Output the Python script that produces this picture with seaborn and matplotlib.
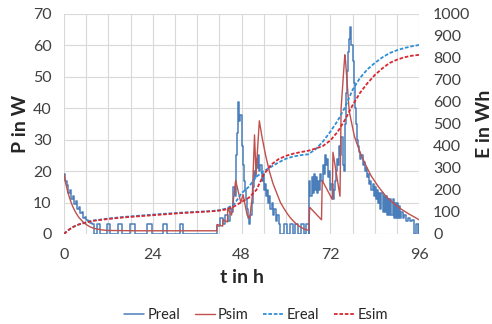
import numpy as np
import pandas as pd
import matplotlib
matplotlib.use("Agg")
import matplotlib.pyplot as plt
import seaborn as sns

# Preal (Messung), stufig, Werte halten bis zum naechsten Zeitpunkt
t_real = [0, 0.4, 0.8, 1.2, 1.6, 2.0, 2.4, 2.8, 3.2, 3.6, 4.0, 4.4, 4.8, 5.2, 5.6, 6.0, 6.5, 7.0, 7.5,
          8.1, 8.9, 9.7, 11.6, 12.4, 14.6, 15.7, 17.8, 19.2, 22.4, 23.8, 26.8, 27.9, 31.4, 32.2,
          41.4, 42.2, 43.0, 43.6, 44.2, 44.8, 45.3, 45.7, 46.1, 46.5, 46.8, 47.1, 47.4, 47.7, 48.0,
          48.3, 48.6, 48.9, 49.2, 49.5, 49.8, 50.1, 50.4, 50.7, 51.0, 51.3, 51.6, 51.9, 52.2, 52.5,
          52.8, 53.1, 53.4, 53.7, 54.0, 54.3, 54.6, 54.9, 55.2, 55.5, 55.8, 56.1, 56.4, 56.8, 57.2,
          57.6, 58.0, 58.5, 59.5, 60.3, 61.0, 61.8, 62.5, 63.3, 64.0, 64.8, 65.5, 66.2,
          66.3, 66.6, 66.9, 67.2, 67.5, 67.8, 68.1, 68.4, 68.7, 69.0, 69.3, 69.6, 69.9, 70.2, 70.5,
          70.8, 71.1, 71.4, 71.7, 72.0, 72.3, 72.6, 72.9, 73.2, 73.5, 73.8, 74.1, 74.4, 74.7, 75.0,
          75.3, 75.6, 75.9, 76.2, 76.5, 76.8, 77.1, 77.4, 77.7, 78.0, 78.3, 78.6, 78.9, 79.2, 79.5,
          79.8, 80.1, 80.4, 80.7, 81.0, 81.3, 81.6, 81.9, 82.2, 82.5, 82.8, 83.1, 83.4, 83.7, 84.0,
          84.3, 84.6, 84.9, 85.2, 85.5, 85.8, 86.1, 86.4, 86.7, 87.0, 87.3, 87.6, 87.9, 88.2, 88.5,
          88.8, 89.1, 89.4, 89.7, 90.0, 90.3, 90.6, 90.9, 91.2, 91.6, 92.0, 92.5, 93.0, 93.5, 94.0,
          94.6, 95.2, 95.8, 96.0]
p_real = [19, 17, 15.5, 13, 14, 11, 12, 9.5, 10.5, 8, 8.5, 6.5, 7, 5, 5.5, 4.5, 4, 3.5, 3.3,
          0, 3.3, 0, 3.3, 0, 3.3, 0, 3.3, 0, 3.3, 0, 3.3, 0, 3.3, 0,
          2.5, 5, 3, 6, 4, 8, 7, 15, 12, 25, 32, 42, 36, 38, 28,
          22, 17, 14, 11, 8, 5, 3, 6, 10, 15, 20, 18, 24, 21, 25,
          20, 22, 17, 19, 14, 16, 12, 14, 10, 12, 8, 10, 6, 8, 4,
          6, 3, 0, 3, 0, 3, 0, 3, 0, 3, 0, 3, 0,
          17, 12, 18, 13, 19, 14, 18, 13, 17, 14, 19, 17, 22, 19, 25,
          22, 24, 18, 20, 14, 16, 11, 14, 17, 20, 24, 22, 28, 25, 31,
          22, 20, 35, 45, 52, 58, 62, 66, 60, 55, 48, 40, 35, 30, 28,
          26, 24, 25, 22, 23, 20, 21, 18, 19, 16, 17, 14, 16, 12, 15,
          11, 14, 10, 13, 8, 13, 7, 12, 7, 12, 6, 11, 6, 11, 6,
          11, 5, 10, 5, 10, 5, 9, 5, 7, 5, 6, 4, 5, 4, 4.5,
          0, 3, 0, 3]

# Psim (Simulation)
t_sim = [0, 0.5, 1, 1.5, 2, 2.5, 3, 3.5, 4, 5, 6, 7, 8, 10, 12, 20, 41.3,
         41.35, 42.9, 42.95, 44.2, 44.25, 45.3, 46.4, 47.8, 48.4, 49.5, 50.2, 50.9, 51.5, 51.9,
         52.8, 53.5, 54.5, 55.5, 56.5, 57.5, 58.5, 59.5, 60.5, 61.5, 62.5, 63.5, 64.5, 65.5, 66.2,
         66.4, 69.6, 69.8, 72.5, 72.7, 74.6, 74.9, 75.9, 76.1, 77.1, 78.5, 80, 81.5, 83, 85, 87,
         89, 91, 93, 96]
p_sim = [19, 16, 13.5, 11.5, 9.8, 8.4, 7.2, 6.2, 5.3, 4, 3, 2.3, 1.8, 1.3, 1.1, 1, 1,
         3, 2.5, 4.5, 3.8, 8, 6, 17, 10, 12.5, 6, 5, 12, 31.5, 19,
         36, 31, 25, 20, 16, 13, 10, 8, 6.2, 4.7, 3.5, 2.5, 1.8, 1.3, 1.2,
         8.5, 4.5, 17, 11, 26, 12, 40, 57, 55, 39, 31, 26, 22, 18.5, 15, 12,
         9.8, 8, 6.5, 4.5]

# Energie (kumuliert) in Wh
t_e = [0, 1, 2, 3, 4, 6, 8, 12, 16, 24, 32, 40, 42, 44, 46, 48, 50, 52, 54, 56, 58, 60, 62, 64,
       66, 68, 70, 72, 74, 76, 78, 80, 82, 84, 86, 88, 90, 92, 94, 96]
e_real = [0, 15, 27, 36, 43, 53, 61, 70, 77, 88, 97, 104, 108, 116, 135, 185, 215, 260, 285, 305,
          325, 342, 352, 358, 362, 385, 420, 465, 515, 577, 655, 709, 748, 777, 802, 822, 835, 845,
          853, 859]
e_sim = [0, 15, 27, 36, 43, 52, 60, 68, 75, 85, 95, 103, 106, 112, 125, 145, 165, 200, 270, 315,
         340, 355, 365, 372, 378, 388, 400, 425, 465, 520, 585, 641, 685, 722, 752, 777, 792, 803,
         810, 814]

df_real = pd.DataFrame({"t": t_real, "P": p_real})
df_sim = pd.DataFrame({"t": t_sim, "P": p_sim})
df_e = pd.DataFrame({"t": t_e, "Ereal": e_real, "Esim": e_sim})

sns.set_style("white")
plt.rcParams["font.family"] = ["Lato", "DejaVu Sans"]

c_preal = "#4A7EBB"
c_psim = "#C0504D"
c_ereal = "#2E8FD8"
c_esim = "#D9282F"

fig = plt.figure(figsize=(4.92, 3.24), dpi=100)
ax = fig.add_axes([0.130, 0.278, 0.722, 0.679])
ax2 = ax.twinx()

sns.lineplot(data=df_real, x="t", y="P", ax=ax, color=c_preal, lw=1.1,
             drawstyle="steps-post", label="Preal", legend=False)
sns.lineplot(data=df_sim, x="t", y="P", ax=ax, color=c_psim, lw=1.0, label="Psim", legend=False)
sns.lineplot(data=df_e, x="t", y="Ereal", ax=ax2, color=c_ereal, lw=1.3,
             linestyle=(0, (2, 1)), label="Ereal", legend=False)
sns.lineplot(data=df_e, x="t", y="Esim", ax=ax2, color=c_esim, lw=1.3,
             linestyle=(0, (2, 1)), label="Esim", legend=False)

ax.set_xlim(0, 96)
ax.set_ylim(0, 70)
ax2.set_ylim(0, 1000)
ax.set_xticks([0, 24, 48, 72, 96])
ax.set_xticks(np.arange(0, 97, 6), minor=True)
ax.set_yticks(np.arange(0, 71, 10))
ax2.set_yticks(np.arange(0, 1001, 100))

ax.grid(which="both", axis="x", color="#d9d9d9", lw=0.8)
ax.grid(which="major", axis="y", color="#d9d9d9", lw=0.8)
ax.set_axisbelow(True)
ax.tick_params(which="both", length=0, labelsize=11.5, colors="#404040")
ax.tick_params(axis="x", pad=10)
ax.tick_params(axis="y", pad=9)
ax2.tick_params(length=0, labelsize=11.5, colors="#404040", pad=10)
for a in (ax, ax2):
    for s in a.spines.values():
        s.set_visible(False)

ax.set_xlabel("t in h", fontsize=14, fontweight="bold", labelpad=5)
ax.set_ylabel("P in W", fontsize=14, fontweight="bold", labelpad=3)
ax2.set_ylabel("E in Wh", fontsize=14, fontweight="bold", labelpad=4)

h1, l1 = ax.get_legend_handles_labels()
h2, l2 = ax2.get_legend_handles_labels()
fig.legend(h1 + h2, l1 + l2, loc="lower center", bbox_to_anchor=(0.52, -0.035), ncol=4,
           frameon=False, fontsize=10.5, handlelength=1.4, handletextpad=0.2, columnspacing=1.0)

fig.savefig("out.png", dpi=100)
